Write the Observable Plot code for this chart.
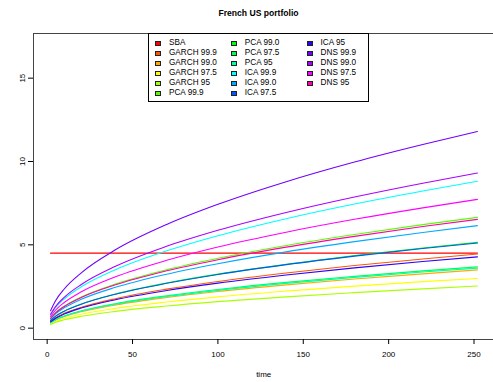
<!DOCTYPE html>
<html><head><meta charset="utf-8">
<script src="https://cdn.jsdelivr.net/npm/d3@7"></script>
<script src="https://cdn.jsdelivr.net/npm/@observablehq/plot@0.6"></script>
<style>
html,body{margin:0;padding:0;background:#fff;overflow:hidden;width:493px;height:382px}
#wrap{position:relative;width:493px;height:382px;overflow:hidden;font-family:"Liberation Sans",Arial,Helvetica,sans-serif;color:#000}
#title{position:absolute;top:7px;left:258.5px;transform:translateX(-50%);font-weight:bold;font-size:8.6px;line-height:12px;white-space:nowrap}
#chart{position:absolute;top:20px;left:0}
#xlab{position:absolute;top:369px;left:263.7px;transform:translateX(-50%);font-size:8px;line-height:12px;white-space:nowrap}
#legend{position:absolute;left:148px;top:33px;width:221px;height:69px;box-sizing:border-box;border:1px solid #000;background:#fff}
.item{position:absolute;height:10px;line-height:10px;font-size:8.2px;white-space:nowrap}
.sw{position:absolute;width:6px;height:5px;box-sizing:border-box;border:1px solid #222}
</style></head>
<body><div id="wrap">
<div id="title">French US portfolio</div>
<div id="chart"></div>
<div id="xlab">time</div>
<div id="legend"></div>
</div>
<script>
// time points (x) at which values were read
const time = [2, 5, 10, 20, 40, 70, 100, 140, 180, 220, 252];
const seriesNames = ["SBA","GARCH 99.9","GARCH 99.0","GARCH 97.5","GARCH 95","PCA 99.9","PCA 99.0","PCA 97.5","PCA 95","ICA 99.9","ICA 99.0","ICA 97.5","ICA 95","DNS 99.9","DNS 99.0","DNS 97.5","DNS 95"];
const palette = ["#FF0000","#FF5500","#FFAA00","#FFFF00","#AAFF00","#55FF00","#00FF00","#00FF55","#00FFAA","#00FFFF","#00AAFF","#0055FF","#2A00FF","#7000FF","#AA00FF","#FF00FF","#FF00AA"];
const xTicks = [0, 50, 100, 150, 200, 250];
const yTicks = [0, 5, 10, 15];

const sba      = [4.5, 4.5, 4.5, 4.5, 4.5, 4.5, 4.5, 4.5, 4.5, 4.5, 4.5];
const garch999 = [0.40, 0.63, 0.89, 1.25, 1.77, 2.34, 2.80, 3.31, 3.76, 4.15, 4.45];
const garch990 = [0.31, 0.49, 0.70, 0.98, 1.39, 1.84, 2.20, 2.60, 2.95, 3.26, 3.50];
const garch975 = [0.27, 0.42, 0.59, 0.84, 1.19, 1.57, 1.88, 2.22, 2.52, 2.79, 2.98];
const garch95  = [0.22, 0.36, 0.50, 0.71, 1.01, 1.33, 1.59, 1.88, 2.13, 2.36, 2.53];
const pca999   = [0.59, 0.94, 1.32, 1.87, 2.65, 3.51, 4.19, 4.96, 5.62, 6.21, 6.65];
const pca990   = [0.46, 0.72, 1.02, 1.45, 2.05, 2.71, 3.24, 3.83, 4.35, 4.81, 5.15];
const pca975   = [0.33, 0.52, 0.73, 1.04, 1.47, 1.94, 2.32, 2.75, 3.11, 3.44, 3.68];
const pca95    = [0.32, 0.51, 0.72, 1.02, 1.44, 1.90, 2.27, 2.69, 3.05, 3.37, 3.60];
const ica999   = [0.78, 1.24, 1.75, 2.48, 3.51, 4.64, 5.55, 6.57, 7.45, 8.23, 8.81];
const ica990   = [0.55, 0.87, 1.22, 1.73, 2.45, 3.24, 3.87, 4.58, 5.19, 5.74, 6.15];
const ica975   = [0.46, 0.72, 1.02, 1.44, 2.04, 2.69, 3.22, 3.81, 4.32, 4.78, 5.11];
const ica95    = [0.38, 0.60, 0.85, 1.21, 1.71, 2.26, 2.70, 3.19, 3.62, 4.00, 4.28];
const dns999   = [1.05, 1.66, 2.35, 3.32, 4.70, 6.22, 7.43, 8.79, 9.97, 11.02, 11.80];
const dns990   = [0.83, 1.31, 1.85, 2.62, 3.71, 4.91, 5.87, 6.94, 7.87, 8.70, 9.31];
const dns975   = [0.69, 1.09, 1.54, 2.18, 3.08, 4.07, 4.87, 5.76, 6.53, 7.22, 7.73];
const dns95    = [0.58, 0.92, 1.30, 1.84, 2.60, 3.44, 4.11, 4.86, 5.51, 6.10, 6.53];

const seriesValues = [sba, garch999, garch990, garch975, garch95, pca999, pca990, pca975, pca95,
  ica999, ica990, ica975, ica95, dns999, dns990, dns975, dns95];

const rows = [];
seriesNames.forEach((name, i) => {
  seriesValues[i].forEach((v, j) => rows.push({series: name, time: time[j], value: v}));
});

const chart = Plot.plot({
  width: 493, height: 362,
  marginLeft: 33, marginRight: -1, marginTop: 13, marginBottom: 43,
  style: {fontFamily: "'Liberation Sans', Arial, Helvetica, sans-serif", fontSize: "8px", background: "white", color: "#000"},
  x: {domain: [-8, 262]},
  y: {domain: [-0.68, 17.68]},
  color: {domain: seriesNames, range: palette},
  marks: [
    Plot.line(rows, {x: "time", y: "value", z: "series", stroke: "series", strokeWidth: 1.1, curve: "monotone-x"}),
    Plot.frame({stroke: "#444"}),
    Plot.axisX({ticks: xTicks, tickSize: 5, tickPadding: 7, label: null, fontSize: 8}),
    Plot.axisY({ticks: yTicks, tickSize: 5, tickPadding: 4, tickRotate: -90, label: null, fontSize: 8})
  ]
});
document.getElementById("chart").appendChild(chart);

// legend
const leg = document.getElementById("legend");
seriesNames.forEach((name, i) => {
  const col = Math.floor(i / 6), row = i % 6;
  const sw = document.createElement("div");
  sw.className = "sw";
  sw.style.background = palette[i];
  sw.style.left = (6 + col * 75.8) + "px";
  sw.style.top = (7.3 + row * 10) + "px";
  leg.appendChild(sw);
  const t = document.createElement("div");
  t.className = "item";
  t.textContent = name;
  t.style.left = (20 + col * 75.8) + "px";
  t.style.top = (4.3 + row * 10) + "px";
  leg.appendChild(t);
});
</script>
</body></html>
